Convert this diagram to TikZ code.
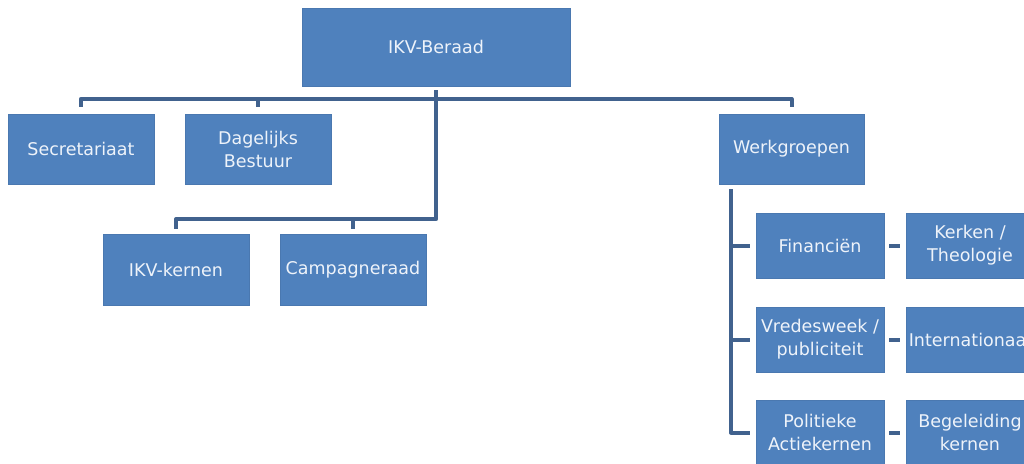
\documentclass[tikz,border=0pt]{standalone}
\usepackage{fontspec}
\setmainfont{DejaVu Sans}
\definecolor{boxblue}{HTML}{4F81BD}
\definecolor{boxedge}{HTML}{4A78B0}
\definecolor{connblue}{HTML}{41628E}
\definecolor{txt}{HTML}{EEF3FA}
\begin{document}
\begin{tikzpicture}[x=1pt,y=-1pt,
  box/.style={fill=boxblue,draw=boxedge,line width=0.4pt,inner sep=0pt,align=center,
    text=txt,font=\fontsize{17.5}{23}\selectfont},
  conn/.style={draw=connblue,line width=4pt,line join=round,line cap=butt}]
\useasboundingbox (0,0) rectangle (1024,463);
% boxes
\node[box,minimum width=268,minimum height=78] (ikv) at (436,47) {IKV-Beraad};
\node[box,minimum width=146,minimum height=70] (sec) at (81,149) {Secretariaat};
\node[box,minimum width=146,minimum height=70] (dag) at (258,149) {Dagelijks\\Bestuur};
\node[box,minimum width=145,minimum height=70] (wg) at (791.5,149) {Werkgroepen};
\node[box,minimum width=146,minimum height=71] (kern) at (176,269.5) {IKV-kernen};
\node[box,minimum width=146,minimum height=71] (camp) at (353,269.5) {Campagneraad};
\node[box,minimum width=128,minimum height=65] (fin) at (820,245.5) {Financiën};
\node[box,minimum width=128,minimum height=65] (vre) at (820,339.5) {Vredesweek /\\publiciteit};
\node[box,minimum width=128,minimum height=65] (pol) at (820,432.5) {Politieke\\Actiekernen};
\node[box,minimum width=128,minimum height=65] (ker) at (970,245.5) {Kerken /\\Theologie};
\node[box,minimum width=128,minimum height=65] (int) at (970,339.5) {Internationaal};
\node[box,minimum width=128,minimum height=65] (beg) at (970,432.5) {Begeleiding\\kernen};
% upper bus
\draw[conn] ([yshift=-4pt]ikv.south) -- ++(0,9);
\draw[conn] ([yshift=7pt]sec.north) -- ++(0,-8) -| ([yshift=7pt]wg.north);
\draw[conn] ([yshift=7pt]dag.north) -- ++(0,-8);
% lower bus
\draw[conn] ([yshift=-4pt]ikv.south) -- ++(0,129) -| ([yshift=5pt]kern.north);
\draw[conn] ([yshift=5pt]camp.north) -- ++(0,-10);
% werkgroepen
\draw[conn] ([xshift=12pt,yshift=-5pt]wg.south west) |- ([xshift=-6pt]pol.west);
\draw[conn] ([xshift=-6pt]fin.west) -- ++(-19,0);
\draw[conn] ([xshift=-6pt]vre.west) -- ++(-19,0);
% dashes
\draw[conn,shorten <=5pt,shorten >=6pt] (fin.east) -- (ker.west);
\draw[conn,shorten <=5pt,shorten >=6pt] (vre.east) -- (int.west);
\draw[conn,shorten <=5pt,shorten >=6pt] (pol.east) -- (beg.west);
\end{tikzpicture}
\end{document}
